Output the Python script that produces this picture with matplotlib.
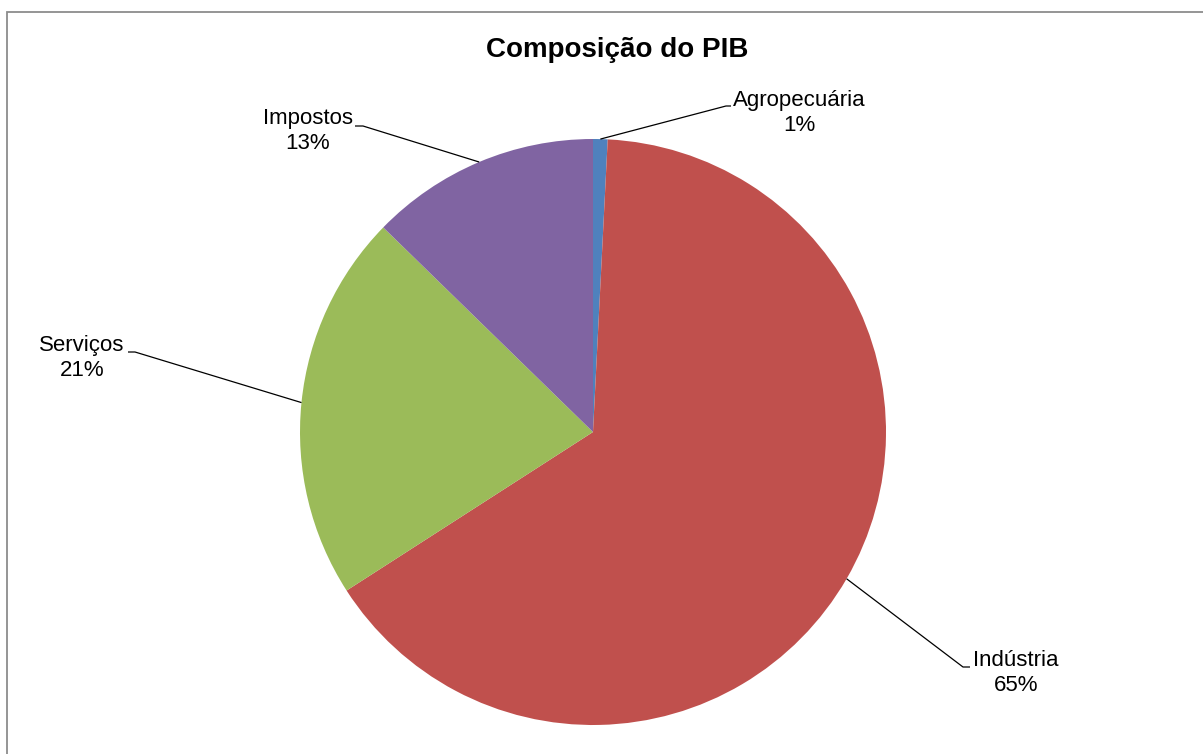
import matplotlib
matplotlib.use("Agg")
import matplotlib.pyplot as plt
import numpy as np
from matplotlib.patches import Rectangle

# Data
categories = ["Agropecuária", "Indústria", "Serviços", "Impostos"]
values = [0.8, 65.1, 21.4, 12.7]
pct_labels = ["1%", "65%", "21%", "13%"]
colors = ["#4F81BD", "#C0504D", "#9BBB59", "#8064A2"]
title = "Composição do PIB"

W, H = 1203, 754
DPI = 100
cx, cy, R = 593, 432, 293  # pie centre / radius in pixels

plt.rcParams['font.family'] = ['Liberation Sans', 'DejaVu Sans']

fig = plt.figure(figsize=(W / DPI, H / DPI), dpi=DPI)
ax = fig.add_axes([0, 0, 1, 1])
ax.axis('off')

wedges, _ = ax.pie(values, colors=colors, startangle=90, counterclock=False,
                   radius=1.0, center=(0, 0), wedgeprops=dict(linewidth=0))
ax.set_aspect('auto')
ax.set_xlim(-cx / R, (W - cx) / R)
ax.set_ylim(-(H - cy) / R, cy / R)


def px(x, y):
    return ((x - cx) / R, (cy - y) / R)

# label layout (pixels): text centre, elbow point, stub end
layout = {
    "Agropecuária": dict(text=(799, 113), elbow=(726, 106), stub=(731, 106)),
    "Indústria": dict(text=(1016, 673), elbow=(963, 667), stub=(970, 667)),
    "Serviços": dict(text=(82, 358), elbow=(135, 352), stub=(128, 352)),
    "Impostos": dict(text=(308, 131), elbow=(363, 126), stub=(355, 126)),
}

for w, cat, pl in zip(wedges, categories, pct_labels):
    ang = np.deg2rad((w.theta1 + w.theta2) / 2)
    ax_, ay_ = np.cos(ang), np.sin(ang)
    L = layout[cat]
    ex, ey = px(*L["elbow"])
    sx, sy = px(*L["stub"])
    ax.plot([ax_, ex, sx], [ay_, ey, sy], color="black", lw=0.9,
            solid_capstyle='butt')
    tx, ty = px(*L["text"])
    ax.text(tx, ty, f"{cat}\n{pl}", ha='center', va='center',
            multialignment='center', fontsize=16, color="black")

fig.text(617 / W, 1 - 50 / H, title, ha='center', va='center',
         fontsize=20, fontweight='bold', color='black')

# chart border
fig.add_artist(Rectangle((7 / W, -0.1), 1.2, 1 - 12.5 / H + 0.1,
                         transform=fig.transFigure, fill=False,
                         edgecolor='#8c8c8c', linewidth=1.3, clip_on=False))

fig.savefig("out.png", dpi=DPI, facecolor='white')
